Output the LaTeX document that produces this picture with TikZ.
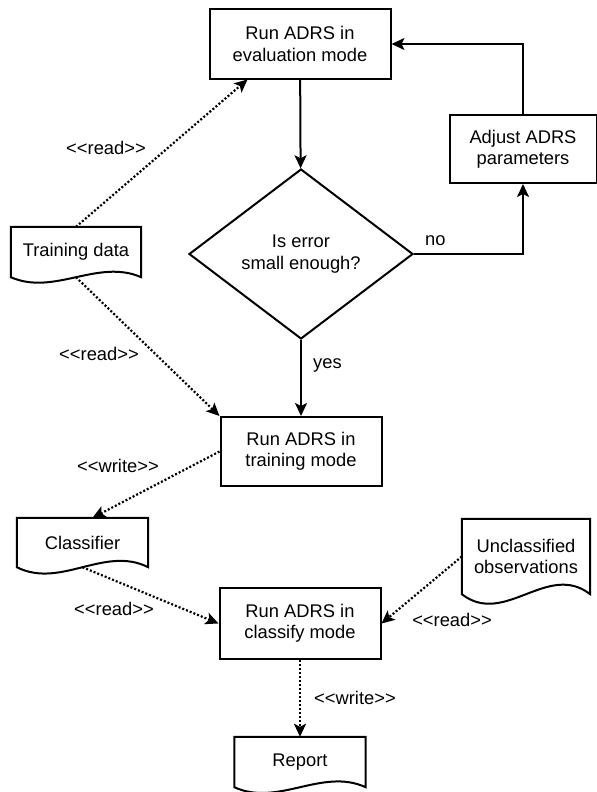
\documentclass[tikz,border=0pt]{standalone}
\usepackage{fontspec}
\setmainfont{Liberation Sans}
\usetikzlibrary{shapes.geometric,arrows.meta,calc}

\newcommand{\stereo}[1]{\textless\kern0pt\textless\kern0pt #1\kern0pt\textgreater\kern0pt\textgreater}

\begin{document}
\begin{tikzpicture}[x=1bp,y=-1bp,
    font=\fontsize{18.4pt}{21.5pt}\selectfont,
    proc/.style={draw,line width=2bp,align=center,inner sep=0pt},
    doc/.style={align=center,inner sep=0pt},
    lbl/.style={inner sep=0pt,anchor=base},
    flow/.style={line width=2bp,-{Stealth[length=13bp,width=12bp,inset=3bp]}},
    io/.style={line width=2.2bp,dash pattern=on 2bp off 2bp,
        -{Stealth[length=13bp,width=12bp,inset=3bp]}}]
    \useasboundingbox (0,0) rectangle (597,792);
    %% process boxes
    \node[proc,minimum width=181bp,minimum height=69bp] (eval) at (300,44) {Run ADRS in\\evaluation mode};
    \node[proc,minimum width=147bp,minimum height=68bp] (adj) at (523,149) {Adjust ADRS\\parameters};
    \node[proc,diamond,minimum width=224bp,minimum height=170bp] (dia) at (301,254) {Is error\\small enough?};
    \node[proc,minimum width=161bp,minimum height=69bp] (train) at (301,451.5) {Run ADRS in\\training mode};
    \node[proc,minimum width=161bp,minimum height=71bp] (cls) at (300,623.5) {Run ADRS in\\classify mode};
    %% documents
    \node[doc,minimum width=130bp,minimum height=50bp] (tdata) at (76,252) {Training data};
    \node[doc,minimum width=131bp,minimum height=49bp] (clsf) at (82.5,542.5) {Classifier};
    \node[doc,minimum width=128bp,minimum height=75bp] (uncl) at (526,556.5) {Unclassified\\observations};
    \node[doc,minimum width=131bp,minimum height=50bp] (rep) at (300,762) {Report};
    \foreach \n/\w in {tdata/19,clsf/22,uncl/33,rep/20}
        \draw[line width=2bp] (\n.south west) -- (\n.north west) -- (\n.north east) -- (\n.south east)
            .. controls ($(\n.south east)!1/3!(\n.south west)+(0,-\w)$)
            and ($(\n.south east)!2/3!(\n.south west)+(0,\w)$) .. (\n.south west) -- cycle;
    %% control flow
    \draw[flow] (eval) -- (dia);
    \draw[flow] (dia.east) -| (adj.south);
    \draw[flow] (adj.north) |- (eval.east);
    \draw[flow] (dia.south) -- (train.north);
    \node[lbl,anchor=base west] (no) at (425,245) {no};
    \node[lbl,anchor=base west] (yes) at (313,368) {yes};
    %% data flow
    \draw[io] (tdata.north) -- ([xshift=39bp]eval.south west);
    \draw[io] (tdata.south) -- (train.north west);
    \draw[io] (train.west) -- ([xshift=10bp]clsf.north);
    \draw[io] (clsf.south) -- (cls.west);
    \draw[io] (uncl.west) -- (cls.east);
    \draw[io] (cls.south) -- (rep.north);
    \node[lbl] (rd1) at (106,154) {\stereo{read}};
    \node[lbl] (rd2) at (99,360) {\stereo{read}};
    \node[lbl] (wr1) at (118,472) {\stereo{write}};
    \node[lbl] (rd3) at (114,615) {\stereo{read}};
    \node[lbl] (rd4) at (452,626) {\stereo{read}};
    \node[lbl] (wr2) at (355,704) {\stereo{write}};
\end{tikzpicture}
\end{document}
